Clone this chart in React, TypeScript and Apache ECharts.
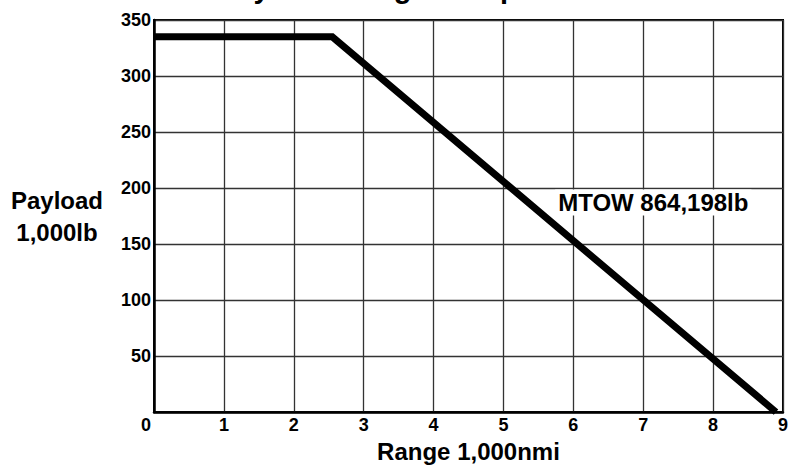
import React, { useEffect, useRef } from "react";
import * as echarts from "echarts";

const titleText = "Payload-Range Comparison";
const xTicks = [0, 1, 2, 3, 4, 5, 6, 7, 8, 9];
const yTicks = [0, 50, 100, 150, 200, 250, 300, 350];
const rangeValues = [0, 2.55, 8.9];
const payloadValues = [335, 335, 0];
const seriesName = "MTOW 864,198lb";
const labelCoord = [5.74, 187];
const xAxisName = "Range 1,000nmi";
const yAxisName = "Payload\n1,000lb";

const FONT = "'Liberation Sans', Arial, Helvetica, sans-serif";

export default function App() {
  const ref = useRef<HTMLDivElement>(null);
  useEffect(() => {
    if (!ref.current) return;
    const chart = echarts.init(ref.current, null, { renderer: "svg" });
    const data = rangeValues.map((x, i) => [x, payloadValues[i]]);
    chart.setOption({
      animation: false,
      backgroundColor: "#fff",
      textStyle: { fontFamily: FONT },
      graphic: [
        {
          type: "text",
          left: 218,
          top: -27,
          style: {
            text: titleText,
            font: `bold 29px ${FONT}`,
            fill: "#000",
          },
        },
      ],
      grid: {
        left: 154,
        right: 4,
        top: 20,
        bottom: 49,
        show: true,
        borderColor: "#000",
        borderWidth: 2,
        backgroundColor: "transparent",
      },
      xAxis: {
        type: "value",
        min: xTicks[0],
        max: xTicks[xTicks.length - 1],
        interval: 1,
        name: xAxisName,
        nameLocation: "middle",
        nameGap: 21,
        nameTextStyle: {
          fontFamily: FONT,
          fontWeight: "bold",
          fontSize: 24,
          color: "#000",
          verticalAlign: "top",
        },
        axisLine: { show: true, lineStyle: { color: "#000", width: 2.5 } },
        axisTick: { show: false },
        splitLine: { show: true, lineStyle: { color: "#333", width: 1.3 } },
        axisLabel: {
          margin: 4,
          fontFamily: FONT,
          fontWeight: "bold",
          fontSize: 18,
          color: "#000",
          formatter: (v: number) => (v === 0 ? "{z|0}" : String(v)),
          rich: {
            z: {
              fontFamily: FONT,
              fontWeight: "bold",
              fontSize: 18,
              color: "#000",
              padding: [0, 16, 0, 0],
            },
          },
        },
      },
      yAxis: {
        type: "value",
        min: yTicks[0],
        max: yTicks[yTicks.length - 1],
        interval: 50,
        name: yAxisName,
        nameLocation: "middle",
        nameRotate: 0,
        nameGap: 97,
        nameTextStyle: {
          fontFamily: FONT,
          fontWeight: "bold",
          fontSize: 24,
          lineHeight: 32,
          color: "#000",
          align: "center",
          verticalAlign: "middle",
        },
        axisLine: { show: true, lineStyle: { color: "#000", width: 2.5 } },
        axisTick: { show: false },
        splitLine: { show: true, lineStyle: { color: "#333", width: 1.3 } },
        axisLabel: {
          margin: 3,
          fontFamily: FONT,
          fontWeight: "bold",
          fontSize: 18,
          color: "#000",
          formatter: (v: number) => (v === 0 ? "" : String(v)),
        },
      },
      series: [
        {
          type: "line",
          name: seriesName,
          data,
          symbol: "none",
          lineStyle: { color: "#000", width: 7, join: "miter", cap: "butt" },
          markPoint: {
            symbol: "rect",
            symbolSize: 0,
            data: [
              {
                coord: labelCoord,
                label: {
                  show: true,
                  position: "right",
                  distance: 0,
                  formatter: seriesName,
                  fontFamily: FONT,
                  fontWeight: "bold",
                  fontSize: 24,
                  color: "#000",
                  backgroundColor: "#fff",
                  padding: [1, 3, 1, 3],
                },
              },
            ],
          },
        },
      ],
    });
    return () => chart.dispose();
  }, []);
  return (
    <div
      ref={ref}
      style={{ position: "absolute", left: 0, top: 0, width: 791, height: 468 }}
    />
  );
}
